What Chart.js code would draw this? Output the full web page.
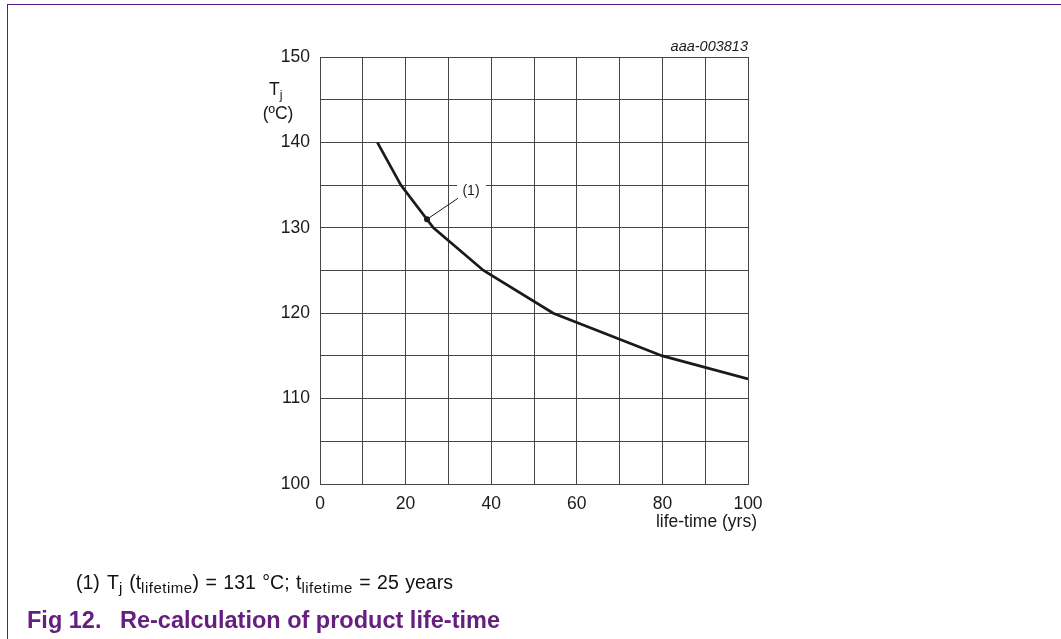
<!DOCTYPE html>
<html>
<head>
<meta charset="utf-8">
<script src="https://cdn.jsdelivr.net/npm/chart.js@4.4.0/dist/chart.umd.min.js"></script>
<style>
  html, body { margin: 0; padding: 0; background: #fff; }
  #wrap { position: relative; width: 1061px; height: 639px; overflow: hidden; }
  #frameTop { position: absolute; left: 7px; top: 4px; width: 1054px; height: 0; border-top: 1.5px solid #5b1a80; }
  #frameLeft { position: absolute; left: 7px; top: 4px; width: 0; height: 635px; border-left: 1.5px solid #5b1a80; }
</style>
</head>
<body>
<div id="wrap">
  <canvas id="lifeTimeChart" width="1061" height="639"></canvas>
  <div id="frameTop"></div>
  <div id="frameLeft"></div>
</div>
<script>
// curve
const lifeTimeYears = [13.4, 18.9, 26.5, 38.2, 54.5, 80, 100];
const junctionTemp = [140, 135, 130, 125, 120, 115, 112.3];
// marked point (1)
const markerYears = [25];
const markerTemp = [131];
// labelled ticks
const xTickLabels = [0, 20, 40, 60, 80, 100];
const yTickLabels = [100, 110, 120, 130, 140, 150];

const FONT = 'Arial, "Liberation Sans", sans-serif';
const GRID = '#454545';
const PURPLE = '#65207f';

// draws a run of text pieces, some as subscripts; extra widens spaces
function drawRuns(ctx, x, y, runs, size, subSize, extra) {
    runs.forEach(r => {
        ctx.font = (r.sub ? subSize : size) + 'px ' + FONT;
        ctx.letterSpacing = r.sub ? '0.5px' : '0px';
        if (r.sub) {
            ctx.fillText(r.t, x, y + 4);
            x += ctx.measureText(r.t).width;
            return;
        }
        r.t.split(' ').forEach((word, i) => {
            if (i > 0) x += ctx.measureText(' ').width + extra;
            ctx.fillText(word, x, y);
            x += ctx.measureText(word).width;
        });
    });
    ctx.letterSpacing = '0px';
    return x;
}

const figText = {
    id: 'figText',
    afterDatasetsDraw(chart) {
        const ctx = chart.ctx;
        const xs = chart.scales.x;
        const ys = chart.scales.y;
        const area = chart.chartArea;
        ctx.save();
        ctx.fillStyle = '#1a1a1a';
        ctx.textBaseline = 'alphabetic';

        // note (1) with leader line
        let px = xs.getPixelForValue(markerYears[0]);
        let py = ys.getPixelForValue(markerTemp[0]);
        let lx = px + 31, ly = py - 21;
        ctx.strokeStyle = '#1a1a1a';
        ctx.lineWidth = 1;
        ctx.beginPath();
        ctx.moveTo(px, py);
        ctx.lineTo(lx, ly);
        ctx.stroke();
        ctx.fillStyle = '#fff';
        ctx.fillRect(lx - 1, ly - 17, 29, 16);
        ctx.fillStyle = '#1a1a1a';
        ctx.font = '14px ' + FONT;
        ctx.textAlign = 'center';
        ctx.fillText('(1)', lx + 13, ly - 3);
        ctx.beginPath();
        ctx.arc(px, py, 3, 0, Math.PI * 2);
        ctx.fill();

        // y axis title
        ctx.textAlign = 'left';
        drawRuns(ctx, area.left - 51, area.top + 38, [{t: 'T'}, {t: 'j', sub: true}], 17.5, 12.5, 0);
        ctx.textAlign = 'center';
        ctx.font = '17.5px ' + FONT;
        ctx.fillText('(\u00baC)', area.left - 42, area.top + 62);

        // figure code and x axis title
        ctx.textAlign = 'right';
        ctx.font = 'italic 14.5px ' + FONT;
        ctx.fillText('aaa-003813', area.right, area.top - 6);
        ctx.font = '17.5px ' + FONT;
        ctx.fillText('life-time (yrs)', area.right + 9, area.bottom + 43);

        // footnote
        ctx.textAlign = 'left';
        ctx.fillStyle = '#111';
        ctx.font = '19.5px ' + FONT;
        ctx.fillText('(1)', 76, 589);
        drawRuns(ctx, 107, 589, [
            {t: 'T'}, {t: 'j', sub: true}, {t: ' (t'}, {t: 'lifetime', sub: true},
            {t: ') = 131 \u00b0C; t'}, {t: 'lifetime', sub: true}, {t: ' = 25 years'}
        ], 19.5, 15, 1);

        // caption
        ctx.fillStyle = PURPLE;
        ctx.font = 'bold 23.5px ' + FONT;
        ctx.fillText('Fig 12.', 27, 628);
        ctx.fillText('Re-calculation of product life-time', 120, 628);
        ctx.restore();
    }
};

const ctx = document.getElementById('lifeTimeChart');
new Chart(ctx, {
    type: 'line',
    data: {
        datasets: [{
            data: lifeTimeYears.map((x, i) => ({x: x, y: junctionTemp[i]})),
            borderColor: '#1a1a1a',
            borderWidth: 2.7,
            pointRadius: 0,
            tension: 0,
            fill: false
        }]
    },
    options: {
        responsive: false,
        animation: false,
        layout: {padding: {left: 270, right: 313, top: 57, bottom: 115}},
        plugins: {legend: {display: false}, tooltip: {enabled: false}},
        scales: {
            x: {
                type: 'linear',
                min: 0,
                max: 100,
                afterFit: s => { s.height = 40; },
                border: {display: true, color: GRID, width: 1},
                grid: {color: GRID, lineWidth: 1, drawTicks: false},
                ticks: {
                    stepSize: 10,
                    autoSkip: false,
                    maxRotation: 0,
                    padding: 10,
                    color: '#1a1a1a',
                    font: {family: FONT, size: 17.5},
                    callback: v => xTickLabels.includes(v) ? String(v) : ''
                }
            },
            y: {
                min: 100,
                max: 150,
                afterFit: s => { s.width = 50; },
                border: {display: true, color: GRID, width: 1},
                grid: {color: GRID, lineWidth: 1, drawTicks: false},
                ticks: {
                    stepSize: 5,
                    autoSkip: false,
                    padding: 10,
                    color: '#1a1a1a',
                    font: {family: FONT, size: 17.5},
                    callback: v => yTickLabels.includes(v) ? String(v) : ''
                }
            }
        }
    },
    plugins: [figText]
});
</script>
</body>
</html>
